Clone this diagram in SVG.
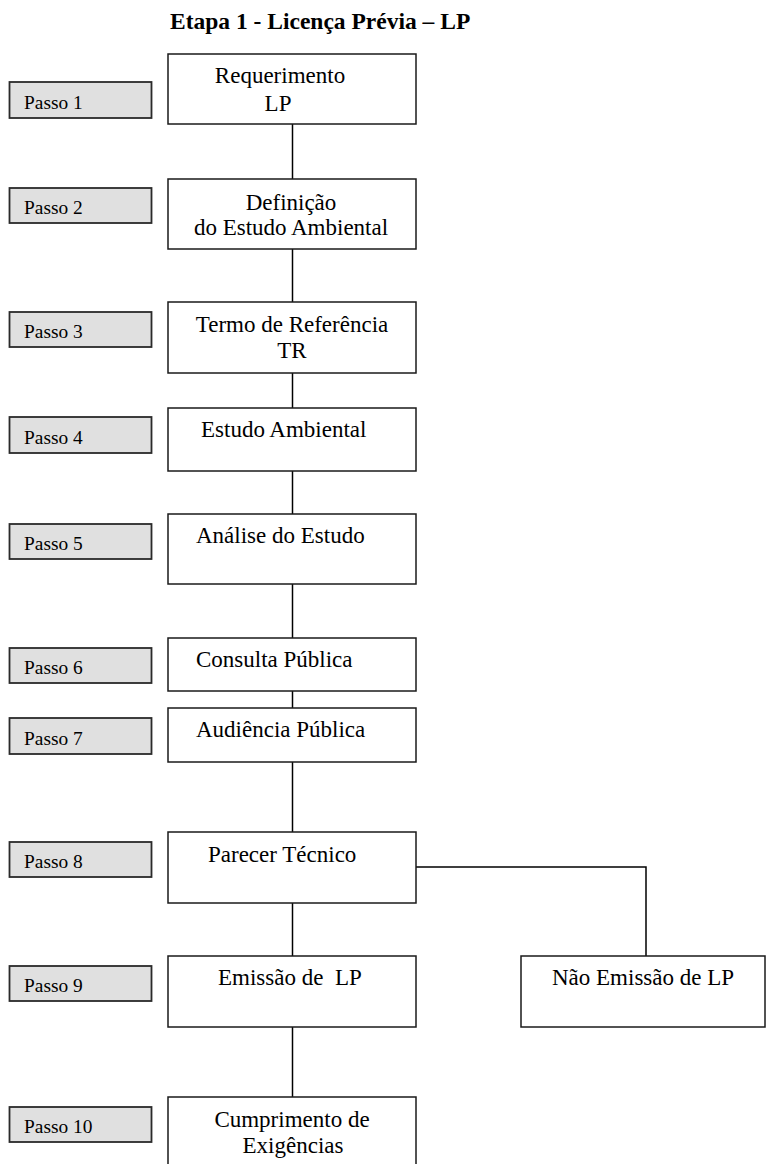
<svg xmlns="http://www.w3.org/2000/svg" width="766" height="1164" viewBox="0 0 766 1164">
  <style>
    .bg { fill: #ffffff; }
    .box { fill: #ffffff; stroke: #1a1a1a; stroke-width: 1.5; }
    .step { fill: #e0e0e0; stroke: #2a2a2a; stroke-width: 1.8; }
    .t { font-family: "Liberation Serif", "Times New Roman", serif; font-size: 23px; fill: #000; }
    .ts { font-family: "Liberation Serif", "Times New Roman", serif; font-size: 19.4px; fill: #000; }
    .title { font-family: "Liberation Serif", "Times New Roman", serif; font-size: 23.5px; font-weight: bold; fill: #000; }
    .c { text-anchor: middle; }
    .link { fill: none; stroke: #000; stroke-width: 1.5; }
  </style>

  <rect class="bg" x="0" y="0" width="766" height="1164"/>

  <text class="title" x="170" y="29">Etapa 1 - Licença Prévia – LP</text>

  <!-- connectors -->
  <g id="connectors">
    <line class="link" x1="292.5" y1="124" x2="292.5" y2="179"/>
    <line class="link" x1="292.5" y1="249" x2="292.5" y2="302"/>
    <line class="link" x1="292.5" y1="373" x2="292.5" y2="408"/>
    <line class="link" x1="292.5" y1="471" x2="292.5" y2="514"/>
    <line class="link" x1="292.5" y1="584" x2="292.5" y2="638"/>
    <line class="link" x1="292.5" y1="691" x2="292.5" y2="708"/>
    <line class="link" x1="292.5" y1="762" x2="292.5" y2="832"/>
    <line class="link" x1="292.5" y1="903" x2="292.5" y2="956"/>
    <line class="link" x1="292.5" y1="1027" x2="292.5" y2="1097"/>
    <polyline class="link" points="416,867 646,867 646,956"/>
  </g>

  <!-- step labels -->
  <g id="passo1"><rect class="step" x="9.5" y="82" width="142" height="36"/><text class="ts" x="24" y="108.5">Passo 1</text></g>
  <g id="passo2"><rect class="step" x="9.5" y="188" width="142" height="35"/><text class="ts" x="24" y="214">Passo 2</text></g>
  <g id="passo3"><rect class="step" x="9.5" y="312" width="142" height="35"/><text class="ts" x="24" y="338">Passo 3</text></g>
  <g id="passo4"><rect class="step" x="9.5" y="417" width="142" height="36"/><text class="ts" x="24" y="443.5">Passo 4</text></g>
  <g id="passo5"><rect class="step" x="9.5" y="524" width="142" height="35"/><text class="ts" x="24" y="550">Passo 5</text></g>
  <g id="passo6"><rect class="step" x="9.5" y="648" width="142" height="35"/><text class="ts" x="24" y="674">Passo 6</text></g>
  <g id="passo7"><rect class="step" x="9.5" y="718" width="142" height="36"/><text class="ts" x="24" y="744.5">Passo 7</text></g>
  <g id="passo8"><rect class="step" x="9.5" y="842" width="142" height="35"/><text class="ts" x="24" y="868">Passo 8</text></g>
  <g id="passo9"><rect class="step" x="9.5" y="966" width="142" height="35"/><text class="ts" x="24" y="992">Passo 9</text></g>
  <g id="passo10"><rect class="step" x="9.5" y="1107" width="142" height="35"/><text class="ts" x="24" y="1133">Passo 10</text></g>

  <!-- process boxes -->
  <g id="requerimento">
    <rect class="box" x="168" y="54" width="248" height="70"/>
    <text class="t c" x="280" y="83">Requerimento</text>
    <text class="t c" x="278" y="111">LP</text>
  </g>
  <g id="definicao">
    <rect class="box" x="168" y="179" width="248" height="70"/>
    <text class="t c" x="291" y="210">Definição</text>
    <text class="t c" x="291" y="235">do Estudo Ambiental</text>
  </g>
  <g id="termo">
    <rect class="box" x="168" y="302" width="248" height="71"/>
    <text class="t c" x="292" y="332">Termo de Referência</text>
    <text class="t c" x="292" y="358">TR</text>
  </g>
  <g id="estudo">
    <rect class="box" x="168" y="408" width="248" height="63"/>
    <text class="t" x="201" y="437">Estudo Ambiental</text>
  </g>
  <g id="analise">
    <rect class="box" x="168" y="514" width="248" height="70"/>
    <text class="t" x="196" y="543">Análise do Estudo</text>
  </g>
  <g id="consulta">
    <rect class="box" x="168" y="638" width="248" height="53"/>
    <text class="t" x="196" y="667">Consulta Pública</text>
  </g>
  <g id="audiencia">
    <rect class="box" x="168" y="708" width="248" height="54"/>
    <text class="t" x="196" y="737">Audiência Pública</text>
  </g>
  <g id="parecer">
    <rect class="box" x="168" y="832" width="248" height="71"/>
    <text class="t" x="208" y="862">Parecer Técnico</text>
  </g>
  <g id="emissao">
    <rect class="box" x="168" y="956" width="248" height="71"/>
    <text class="t" x="218" y="985" xml:space="preserve">Emissão de  LP</text>
  </g>
  <g id="nao-emissao">
    <rect class="box" x="521" y="956" width="244" height="71"/>
    <text class="t" x="552" y="985">Não Emissão de LP</text>
  </g>
  <g id="cumprimento">
    <rect class="box" x="168" y="1097" width="248" height="80"/>
    <text class="t c" x="292" y="1127">Cumprimento de</text>
    <text class="t c" x="293" y="1153">Exigências</text>
  </g>
</svg>
